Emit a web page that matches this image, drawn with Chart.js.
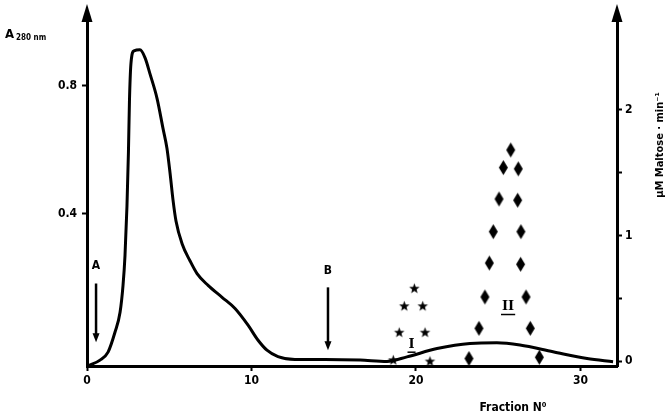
<!DOCTYPE html>
<html><head><meta charset="utf-8">
<script src="https://cdn.jsdelivr.net/npm/chart.js@4/dist/chart.umd.min.js"></script>
<style>html,body{margin:0;padding:0;background:#fff;}#wrap{width:672px;height:416px;position:relative;}canvas{display:block;}</style>
</head><body><div id="wrap"><canvas id="c" width="672" height="416" style="width:672px;height:416px"></canvas></div>
<script>
// ---- data ----
const xTicks = [0, 10, 20, 30];
const leftTicks = [0.4, 0.8];
const rightTicks = [0, 0.5, 1, 1.5, 2];
const rightTickLabels = ['0', '', '1', '', '2'];

const curveFraction = [0.06,0.79,1.28,1.70,2.01,2.19,2.31,2.43,2.52,2.58,2.67,2.86,3.22,3.53,3.83,4.26,4.62,4.86,5.05,5.23,5.41,5.78,6.26,6.69,7.36,8.21,9.00,9.79,10.40,10.94,11.61,12.64,14.47,16.60,18.24,19.45,21.28,23.28,24.92,26.32,28.33,30.40,31.98];
const curveA280 = [-0.074,-0.056,-0.031,0.031,0.093,0.177,0.270,0.425,0.595,0.750,0.868,0.909,0.912,0.887,0.837,0.760,0.667,0.605,0.527,0.443,0.378,0.307,0.254,0.214,0.177,0.140,0.105,0.053,0.006,-0.025,-0.045,-0.054,-0.054,-0.056,-0.060,-0.046,-0.020,-0.004,-0.002,-0.009,-0.030,-0.051,-0.061];

const peakIFraction = [18.62,18.98,19.29,19.90,20.41,20.55,20.85];
const peakIActivity = [0.01,0.23,0.44,0.58,0.44,0.23,0.0];

const peakIIFraction = [23.22,23.83,24.19,24.46,24.70,25.05,25.31,25.76,26.22,26.18,26.38,26.36,26.69,26.95,27.50];
const peakIIActivity = [0.02,0.26,0.51,0.78,1.03,1.29,1.54,1.68,1.53,1.28,1.03,0.77,0.51,0.26,0.03];

const arrowLabels = ['A', 'B'];
const arrowFraction = [0.55, 14.65];
const arrowLabelA280 = [0.239, 0.222];
const arrowFromA280 = [0.183, 0.171];
const arrowToA280 = [0.0, -0.025];

const peakNames = ['I', 'II'];
const peakNameFraction = [19.73, 25.6];
const peakNameActivity = [0.13, 0.43];

// ---- point glyphs ----
function makeStar(r) {
  const c = document.createElement('canvas');
  const s = Math.ceil(r * 2 + 2); c.width = s; c.height = s;
  const g = c.getContext('2d');
  g.beginPath();
  for (let i = 0; i < 10; i++) {
    const rr = i % 2 ? r * 0.42 : r;
    const a = -Math.PI / 2 + i * Math.PI / 5;
    g.lineTo(s / 2 + rr * Math.cos(a), s / 2 + 0.5 + rr * Math.sin(a));
  }
  g.closePath(); g.fillStyle = '#000'; g.fill();
  return c;
}
function makeDiamond(w, h) {
  const c = document.createElement('canvas');
  c.width = w + 2; c.height = h + 2;
  const g = c.getContext('2d');
  g.beginPath();
  g.moveTo(c.width / 2, 1); g.lineTo(c.width - 1, c.height / 2);
  g.lineTo(c.width / 2, c.height - 1); g.lineTo(1, c.height / 2);
  g.closePath(); g.fillStyle = '#000'; g.fill();
  return c;
}
const starImg = makeStar(5.5);
const diamondImg = makeDiamond(9, 15);

const FONT = "'Liberation Sans Narrow','DejaVu Sans Condensed','Arial Narrow',sans-serif";

const decor = {
  id: 'decor',
  afterDatasetsDraw(chart) {
    const ctx = chart.ctx, ca = chart.chartArea;
    const xs = chart.scales.x, yl = chart.scales.yL, yr = chart.scales.yR;
    ctx.save();
    ctx.fillStyle = '#000'; ctx.strokeStyle = '#000';
    // axis arrowheads
    [ca.left, ca.right].forEach(x => {
      ctx.beginPath();
      ctx.moveTo(x, 4); ctx.lineTo(x + 5.5, 22); ctx.lineTo(x - 5.5, 22); ctx.closePath(); ctx.fill();
    });
    // left title
    ctx.textBaseline = 'alphabetic'; ctx.textAlign = 'left';
    ctx.font = 'bold 13px ' + FONT;
    ctx.fillText('A', 5, 38);
    ctx.font = 'bold 8px ' + FONT;
    ctx.fillText('280 nm', 16, 40);
    // x title
    ctx.textAlign = 'center';
    ctx.font = 'bold 12px ' + FONT;
    ctx.fillText('Fraction N\u2070', 513, 411);
    // right title
    ctx.save();
    ctx.translate(660, 145); ctx.rotate(-Math.PI / 2);
    ctx.font = 'bold 11px ' + FONT; ctx.textBaseline = 'middle';
    ctx.fillText('\u00b5M Maltose \u00b7 min\u207b\u00b9', 0, 0);
    ctx.restore();
    // A / B arrows
    arrowLabels.forEach((lab, i) => {
      const x = xs.getPixelForValue(arrowFraction[i]);
      const yLab = yl.getPixelForValue(arrowLabelA280[i]);
      const y0 = yl.getPixelForValue(arrowFromA280[i]);
      const y1 = yl.getPixelForValue(arrowToA280[i]);
      ctx.font = 'bold 12px ' + FONT; ctx.textAlign = 'center'; ctx.textBaseline = 'middle';
      ctx.fillText(lab, x, yLab);
      ctx.lineWidth = 2.5;
      ctx.beginPath(); ctx.moveTo(x, y0); ctx.lineTo(x, y1 - 6); ctx.stroke();
      ctx.beginPath(); ctx.moveTo(x, y1); ctx.lineTo(x + 3.5, y1 - 9); ctx.lineTo(x - 3.5, y1 - 9); ctx.closePath(); ctx.fill();
    });
    // peak names
    peakNames.forEach((n, i) => {
      const x = xs.getPixelForValue(peakNameFraction[i]);
      const y = yr.getPixelForValue(peakNameActivity[i]);
      ctx.font = 'bold 13px "DejaVu Serif", serif'; ctx.textAlign = 'center'; ctx.textBaseline = 'middle';
      ctx.fillText(n, x, y);
      const w = ctx.measureText(n).width;
      ctx.lineWidth = 1.5;
      ctx.beginPath(); ctx.moveTo(x - w / 2 - 1, y + 7.5); ctx.lineTo(x + w / 2 + 1, y + 7.5); ctx.stroke();
    });
    ctx.restore();
  }
};

const tickFont = { family: FONT, size: 12, weight: 'bold' };

new Chart(document.getElementById('c'), {
  type: 'line',
  data: {
    datasets: [
      {
        label: 'A280',
        data: curveFraction.map((x, i) => ({ x, y: curveA280[i] })),
        yAxisID: 'yL', borderColor: '#000', borderWidth: 3, pointRadius: 0,
        cubicInterpolationMode: 'monotone', fill: false
      },
      {
        type: 'scatter', label: 'Peak I',
        data: peakIFraction.map((x, i) => ({ x, y: peakIActivity[i] })),
        yAxisID: 'yR', pointStyle: starImg, pointRadius: 6, showLine: false
      },
      {
        type: 'scatter', label: 'Peak II',
        data: peakIIFraction.map((x, i) => ({ x, y: peakIIActivity[i] })),
        yAxisID: 'yR', pointStyle: diamondImg, pointRadius: 6, showLine: false
      }
    ]
  },
  options: {
    responsive: false, animation: false, devicePixelRatio: 1,
    layout: { padding: { top: 10, left: 0, right: 0, bottom: 0 } },
    plugins: { legend: { display: false }, tooltip: { enabled: false } },
    scales: {
      x: {
        type: 'linear', min: 0, max: 32.22,
        afterBuildTicks: s => { s.ticks = xTicks.map(v => ({ value: v })); },
        afterFit: s => { s.height = 50; },
        ticks: { font: tickFont, color: '#000', padding: 3, maxRotation: 0, callback: v => String(v) },
        grid: { drawOnChartArea: false, drawTicks: true, tickLength: 5, tickWidth: 2, tickColor: '#000' },
        border: { display: true, width: 3, color: '#000' }
      },
      yL: {
        type: 'linear', position: 'left', min: -0.0744, max: 1.0295,
        afterBuildTicks: s => { s.ticks = leftTicks.map(v => ({ value: v })); },
        afterFit: s => { s.width = 87; },
        ticks: { font: tickFont, color: '#000', padding: 5, callback: v => v.toFixed(1) },
        grid: { drawOnChartArea: false, drawTicks: true, tickLength: 5, tickWidth: 2, tickColor: '#000' },
        border: { display: true, width: 3, color: '#000' }
      },
      yR: {
        type: 'linear', position: 'right', min: -0.0396, max: 2.777,
        afterBuildTicks: s => { s.ticks = rightTicks.map(v => ({ value: v })); },
        afterFit: s => { s.width = 55; },
        ticks: { font: tickFont, color: '#000', padding: 3,
          callback: (v) => { const i = rightTicks.indexOf(v); return i >= 0 ? rightTickLabels[i] : ''; } },
        grid: { drawOnChartArea: false, drawTicks: true, tickLength: 5, tickWidth: 2, tickColor: '#000' },
        border: { display: true, width: 3, color: '#000' }
      }
    }
  },
  plugins: [decor]
});
</script></body></html>
